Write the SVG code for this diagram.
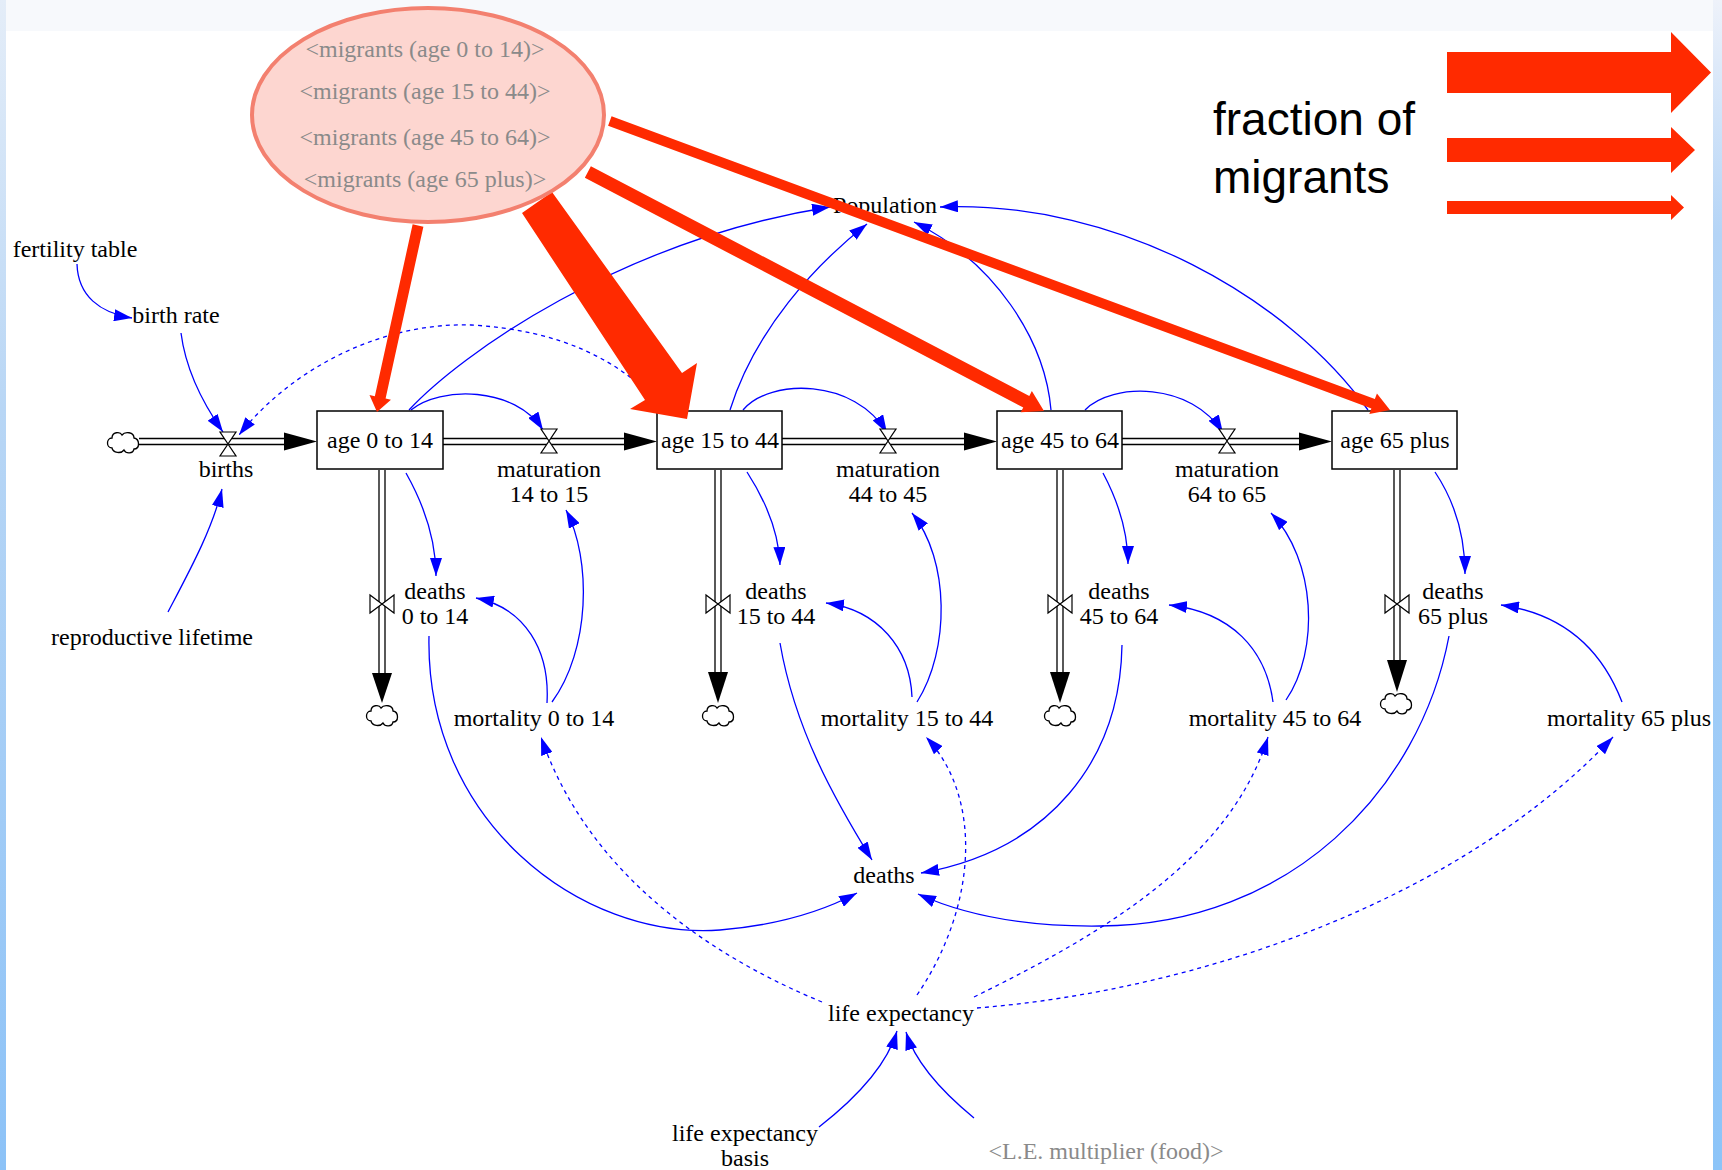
<svg xmlns="http://www.w3.org/2000/svg" width="1722" height="1170" viewBox="0 0 1722 1170">
  <style>
    .lbl { font-family: "Liberation Serif", "Times New Roman", serif; font-size: 24px; fill: #000; text-anchor: middle; }
    .shadow { fill: #8a8a8a; }
    .leg { font-family: "Liberation Sans", Arial, sans-serif; font-size: 46px; fill: #000; }
    .link { fill: none; stroke: #0000ff; stroke-width: 1.3; marker-end: url(#ah); }
    .dash { stroke-dasharray: 4 4; }
    .pipe { fill: none; stroke: #000; stroke-width: 1.3; }
    .stock { fill: #fff; stroke: #000; stroke-width: 1.5; }
    .valve { fill: #fff; stroke: #000; stroke-width: 1.2; }
    .tip { fill: #000; }
    .mig { fill: #ff2a00; }
  </style>
  <defs>
    <linearGradient id="edgeL" x1="0" y1="0" x2="0" y2="1">
      <stop offset="0" stop-color="#e4edf8"/>
      <stop offset="0.35" stop-color="#b8d6f5"/>
      <stop offset="1" stop-color="#8cc2f7"/>
    </linearGradient>
    <linearGradient id="edgeR" x1="0" y1="0" x2="0" y2="1">
      <stop offset="0" stop-color="#eef2fa"/>
      <stop offset="0.2" stop-color="#b4d4f6"/>
      <stop offset="1" stop-color="#8cc4f8"/>
    </linearGradient>
    <marker id="ah" viewBox="0 0 18 12" refX="18" refY="6" markerWidth="18" markerHeight="12" markerUnits="userSpaceOnUse" orient="auto">
      <path d="M0,0 L18,6 L0,12 Z" fill="#0000ff"/>
    </marker>
    <path id="cloud" d="M-11,6 C-17,6 -17,-4 -11,-4 C-11,-10 -3,-11 -1,-7 C2,-11 11,-10 11,-4 C17,-3 17,7 11,7 C10,12 3,12 1,8 C-2,12 -10,11 -11,6 Z" fill="#fff" stroke="#000" stroke-width="1.3"/>
    <path id="hourglass" d="M-8,-12 L8,-12 L0,0 L8,12 L-8,12 L0,0 Z" class="valve"/>
    <path id="bowtie" d="M-12,-9 L-12,9 L0,0 L12,9 L12,-9 L0,0 Z" class="valve"/>
  </defs>

  <!-- page background and side bands -->
  <rect width="1722" height="1170" fill="#f7f9fc"/>
  <rect x="6" y="31" width="1707" height="1139" fill="#ffffff"/>
  <rect x="0" y="0" width="6" height="1170" fill="url(#edgeL)"/>
  <rect x="1713" y="0" width="9" height="1170" fill="url(#edgeR)"/>

  <!-- information links -->
  <g id="connectors">
    <path class="link" d="M77,264 C78,296 100,313 132,318"/>
    <path class="link" d="M181,333 C186,372 204,405 223,432"/>
    <path class="link dash" d="M660,405 C620,360 560,330 471,325 C380,322 290,370 239,435"/>
    <path class="link" d="M168,612 C190,570 212,530 222,489"/>
    <path class="link" d="M409,410 C460,355 620,240 830,207"/>
    <path class="link" d="M411,410 C440,386 515,386 543,430"/>
    <path class="link" d="M406,473 C424,505 436,540 436,576"/>
    <path class="link" d="M547,703 C550,650 525,608 476,598"/>
    <path class="link" d="M552,702 C590,650 592,560 566,510"/>
    <path class="link" d="M429,636 C425,820 580,940 720,930 C780,925 825,910 857,893"/>
    <path class="link" d="M780,643 C795,730 835,800 872,860"/>
    <path class="link" d="M1122,645 C1120,760 1050,850 921,873"/>
    <path class="link" d="M1449,636 C1420,790 1290,925 1100,926 C1020,927 960,913 918,894"/>
    <path class="link" d="M747,472 C767,503 779,535 780,565"/>
    <path class="link" d="M912,697 C910,648 878,610 826,603"/>
    <path class="link" d="M917,702 C950,650 950,560 912,513"/>
    <path class="link" d="M743,410 C770,378 855,378 887,433"/>
    <path class="link" d="M730,410 C755,330 815,265 867,224"/>
    <path class="link" d="M1051,410 C1045,340 995,262 914,222"/>
    <path class="link" d="M1368,410 C1290,300 1120,200 940,207"/>
    <path class="link" d="M1085,410 C1112,382 1192,382 1223,433"/>
    <path class="link" d="M1103,473 C1120,505 1128,535 1128,564"/>
    <path class="link" d="M1273,702 C1266,650 1232,612 1169,605"/>
    <path class="link" d="M1286,700 C1320,650 1316,560 1271,513"/>
    <path class="link" d="M1435,472 C1455,502 1465,538 1465,574"/>
    <path class="link" d="M1622,702 C1602,650 1565,614 1501,605"/>
    <path class="link dash" d="M822,1002 C720,960 590,880 541,737"/>
    <path class="link dash" d="M917,995 C975,910 985,800 926,737"/>
    <path class="link dash" d="M974,997 C1100,935 1230,860 1268,737"/>
    <path class="link dash" d="M977,1008 C1200,990 1460,900 1613,737"/>
    <path class="link" d="M819,1127 C860,1095 888,1062 897,1031"/>
    <path class="link" d="M974,1118 C940,1090 915,1062 906,1032"/>
  </g>

  <!-- material flows: pipes, valves, clouds -->
  <g id="flows">
    <use href="#cloud" x="123" y="442"/>
    <path class="pipe" d="M139,438.5 H285 M139,444.5 H285"/>
    <polygon class="tip" points="284,432.5 317,441.5 284,450.5"/>
    <path class="pipe" d="M443,438.5 H624 M443,444.5 H624"/>
    <polygon class="tip" points="624,432.5 657,441.5 624,450.5"/>
    <path class="pipe" d="M782,438.5 H964 M782,444.5 H964"/>
    <polygon class="tip" points="964,432.5 997,441.5 964,450.5"/>
    <path class="pipe" d="M1122,438.5 H1299 M1122,444.5 H1299"/>
    <polygon class="tip" points="1299,432.5 1332,441.5 1299,450.5"/>

    <path class="pipe" d="M379,470 V673 M385,470 V673"/>
    <polygon class="tip" points="372,673 392,673 382,703"/>
    <use href="#cloud" x="382" y="715"/>
    <path class="pipe" d="M715,470 V672 M721,470 V672"/>
    <polygon class="tip" points="708,672 728,672 718,703"/>
    <use href="#cloud" x="718" y="715"/>
    <path class="pipe" d="M1057,470 V672 M1063,470 V672"/>
    <polygon class="tip" points="1050,672 1070,672 1060,703"/>
    <use href="#cloud" x="1060" y="715"/>
    <path class="pipe" d="M1394,470 V660 M1400,470 V660"/>
    <polygon class="tip" points="1387,660 1407,660 1397,692"/>
    <use href="#cloud" x="1396" y="703"/>
  </g>

  <g id="births">
    <use href="#hourglass" x="228" y="444"/>
    <text class="lbl" x="226" y="477">births</text>
  </g>
  <g id="maturation-14-to-15">
    <use href="#hourglass" x="549" y="441"/>
    <text class="lbl" x="549" y="477">maturation</text>
    <text class="lbl" x="549" y="502">14 to 15</text>
  </g>
  <g id="maturation-44-to-45">
    <use href="#hourglass" x="888" y="441"/>
    <text class="lbl" x="888" y="477">maturation</text>
    <text class="lbl" x="888" y="502">44 to 45</text>
  </g>
  <g id="maturation-64-to-65">
    <use href="#hourglass" x="1227" y="441"/>
    <text class="lbl" x="1227" y="477">maturation</text>
    <text class="lbl" x="1227" y="502">64 to 65</text>
  </g>

  <g id="deaths-0-to-14">
    <use href="#bowtie" x="382" y="604"/>
    <text class="lbl" x="435" y="599">deaths</text>
    <text class="lbl" x="435" y="624">0 to 14</text>
  </g>
  <g id="deaths-15-to-44">
    <use href="#bowtie" x="718" y="604"/>
    <text class="lbl" x="776" y="599">deaths</text>
    <text class="lbl" x="776" y="624">15 to 44</text>
  </g>
  <g id="deaths-45-to-64">
    <use href="#bowtie" x="1060" y="604"/>
    <text class="lbl" x="1119" y="599">deaths</text>
    <text class="lbl" x="1119" y="624">45 to 64</text>
  </g>
  <g id="deaths-65-plus">
    <use href="#bowtie" x="1397" y="604"/>
    <text class="lbl" x="1453" y="599">deaths</text>
    <text class="lbl" x="1453" y="624">65 plus</text>
  </g>

  <!-- stocks -->
  <g id="age-0-to-14">
    <rect class="stock" x="317" y="411" width="126" height="58"/>
    <text class="lbl" x="380" y="448">age 0 to 14</text>
  </g>
  <g id="age-15-to-44">
    <rect class="stock" x="657" y="411" width="125" height="58"/>
    <text class="lbl" x="720" y="448">age 15 to 44</text>
  </g>
  <g id="age-45-to-64">
    <rect class="stock" x="997" y="411" width="125" height="58"/>
    <text class="lbl" x="1060" y="448">age 45 to 64</text>
  </g>
  <g id="age-65-plus">
    <rect class="stock" x="1332" y="411" width="125" height="58"/>
    <text class="lbl" x="1395" y="448">age 65 plus</text>
  </g>

  <!-- auxiliaries -->
  <g id="fertility-table"><text class="lbl" x="75" y="257">fertility table</text></g>
  <g id="birth-rate"><text class="lbl" x="176" y="323">birth rate</text></g>
  <g id="reproductive-lifetime"><text class="lbl" x="152" y="645">reproductive lifetime</text></g>
  <g id="population"><text class="lbl" x="885" y="213">Population</text></g>
  <g id="mortality-0-to-14"><text class="lbl" x="534" y="726">mortality 0 to 14</text></g>
  <g id="mortality-15-to-44"><text class="lbl" x="907" y="726">mortality 15 to 44</text></g>
  <g id="mortality-45-to-64"><text class="lbl" x="1275" y="726">mortality 45 to 64</text></g>
  <g id="mortality-65-plus"><text class="lbl" x="1629" y="726">mortality 65 plus</text></g>
  <g id="deaths"><text class="lbl" x="884" y="883">deaths</text></g>
  <g id="life-expectancy"><text class="lbl" x="901" y="1021">life expectancy</text></g>
  <g id="life-expectancy-basis">
    <text class="lbl" x="745" y="1141">life expectancy</text>
    <text class="lbl" x="745" y="1166">basis</text>
  </g>
  <g id="le-multiplier"><text class="lbl shadow" x="1106" y="1159">&lt;L.E. multiplier (food)&gt;</text></g>

  <!-- migrant inflows, width scaled by share -->
  <g id="migrant-arrows">
    <polygon class="mig" transform="translate(377,412) rotate(102.4)" points="-191,-5.5 -15,-5.5 -15,-11 0,0 -15,11 -15,5.5 -191,5.5"/>
    <polygon class="mig" points="522,213 552,192 682,373 697,363 687,419 630,409 645,400"/>
    <polygon class="mig" transform="translate(1044,411) rotate(27.66)" points="-515,-6.5 -20,-6.5 -20,-12 0,0 -20,12 -20,6.5 -515,6.5"/>
    <polygon class="mig" transform="translate(1390,410) rotate(20.33)" points="-832,-5 -18,-5 -18,-11 0,0 -18,11 -18,5 -832,5"/>
  </g>

  <g id="migrants">
    <ellipse cx="428" cy="115" rx="176" ry="107" fill="#fdd6d0" stroke="#f3806f" stroke-width="4"/>
    <text class="lbl shadow" x="425" y="57">&lt;migrants (age 0 to 14)&gt;</text>
    <text class="lbl shadow" x="425" y="99">&lt;migrants (age 15 to 44)&gt;</text>
    <text class="lbl shadow" x="425" y="145">&lt;migrants (age 45 to 64)&gt;</text>
    <text class="lbl shadow" x="425" y="187">&lt;migrants (age 65 plus)&gt;</text>
  </g>

  <!-- legend -->
  <g id="legend">
    <text class="leg" x="1213" y="135">fraction of</text>
    <text class="leg" x="1213" y="193">migrants</text>
    <polygon class="mig" points="1447,52 1671,52 1671,32 1711,72.5 1671,113 1671,93 1447,93"/>
    <polygon class="mig" points="1447,138 1671,138 1671,127 1695,150 1671,173 1671,162 1447,162"/>
    <polygon class="mig" points="1447,201 1671,201 1671,195 1684,207.5 1671,220 1671,214 1447,214"/>
  </g>
</svg>
